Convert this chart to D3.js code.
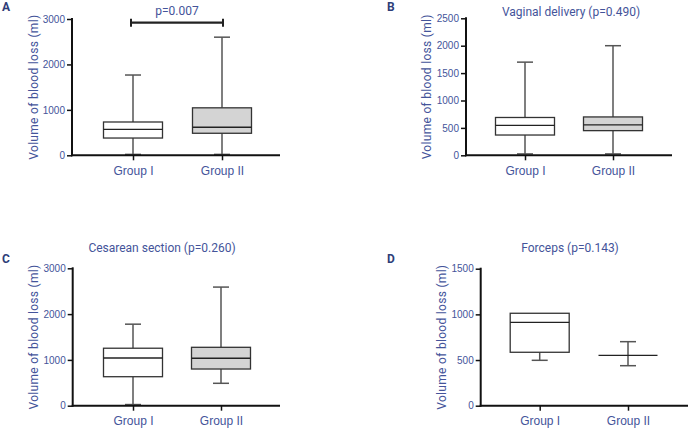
<!DOCTYPE html>
<html><head><meta charset="utf-8">
<script src="https://cdn.jsdelivr.net/npm/d3@7"></script>
<style>
body{margin:0;background:#fff;}
svg{display:block;font-family:Roboto, "Open Sans", sans-serif;}
</style></head>
<body><svg id="c" width="688" height="428"></svg>
<script>
// ---- data ----
const categories = ["Group I", "Group II"];
// [min, q1, median, q3, max] per group
const panelA = [[20, 380, 572, 733, 1767], [20, 485, 617, 1045, 2600]];
const panelB = [[25, 370, 545, 690, 1700], [25, 450, 555, 700, 2000]];
const panelC = [[25, 633, 1041, 1255, 1780], [489, 801, 1036, 1275, 2590]];
const panelD = [[497, 585, 913, 1012, 1012], [438, 552, 552, 552, 701]];
const ticksA = [0, 1000, 2000, 3000];
const ticksB = [0, 500, 1000, 1500, 2000, 2500];
const ticksC = [0, 1000, 2000, 3000];
const ticksD = [0, 500, 1000, 1500];
const titles = ["", "Vaginal delivery (p=0.490)", "Cesarean section (p=0.260)", "Forceps (p=0.143)"];
const letters = ["A", "B", "C", "D"];
const pA = "p=0.007";
const yTitle = "Volume of blood loss (ml)";

const svg = d3.select("#c");
const BLUE = "#44549a";
const fills = ["#ffffff", "#d4d4d4"];

function panel(o) {
  const g = svg.append("g");
  const y = d3.scaleLinear().domain([0, o.max]).range([o.y0, o.y1]);
  const x = d3.scalePoint().domain(categories).range([o.c1, o.c2]);
  const bw = 59, cap = 16;
  o.data.forEach((d, i) => {
    const cx = x(categories[i]);
    const [mn, q1, md, q3, mx] = d;
    g.append("line").attr("x1", cx).attr("x2", cx).attr("y1", y(mx)).attr("y2", y(q3)).attr("stroke", "#555").attr("stroke-width", 1.5);
    g.append("line").attr("x1", cx).attr("x2", cx).attr("y1", y(q1)).attr("y2", y(mn)).attr("stroke", "#555").attr("stroke-width", 1.5);
    if (mx > q3) g.append("line").attr("x1", cx - cap / 2).attr("x2", cx + cap / 2).attr("y1", y(mx)).attr("y2", y(mx)).attr("stroke", "#555").attr("stroke-width", 1.5);
    if (mn < q1) g.append("line").attr("x1", cx - cap / 2).attr("x2", cx + cap / 2).attr("y1", y(mn)).attr("y2", y(mn)).attr("stroke", "#555").attr("stroke-width", 1.5);
    if (q3 > q1) g.append("rect").attr("x", cx - bw / 2).attr("y", y(q3)).attr("width", bw).attr("height", y(q1) - y(q3))
      .attr("fill", fills[i]).attr("stroke", "#333").attr("stroke-width", 1.3);
    g.append("line").attr("x1", cx - bw / 2).attr("x2", cx + bw / 2).attr("y1", y(md)).attr("y2", y(md)).attr("stroke", "#222").attr("stroke-width", 1.3);
  });
  const ya = g.append("g").attr("transform", `translate(${o.ax},0)`).call(d3.axisLeft(y).tickValues(o.ticks).tickSize(5).tickPadding(2).tickFormat(d3.format("d")));
  ya.select(".domain").attr("stroke", "#111").attr("stroke-width", 2).attr("d", `M0,${o.y1 - 1}V${o.y0 + 1}`);
  ya.selectAll(".tick line").attr("stroke", "#111").attr("stroke-width", 1.5);
  ya.selectAll(".tick text").attr("fill", BLUE).attr("font-size", 10);
  g.append("line").attr("x1", o.ax - 1).attr("x2", o.axEnd).attr("y1", o.y0).attr("y2", o.y0).attr("stroke", "#111").attr("stroke-width", 2);
  const xa = g.append("g").attr("transform", `translate(0,${o.y0})`).call(d3.axisBottom(x).tickSize(5).tickPadding(6));
  xa.select(".domain").remove();
  xa.selectAll(".tick line").attr("stroke", "#111").attr("stroke-width", 1.5);
  xa.selectAll(".tick text").attr("fill", BLUE).attr("font-size", 12);
  g.append("text").attr("transform", `translate(${o.tx},${(o.y0 + o.y1) / 2}) rotate(-90)`).attr("text-anchor", "middle")
    .attr("dy", "0.35em").attr("fill", BLUE).attr("font-size", 12).attr("letter-spacing", 0.3).text(yTitle);
  if (o.title) g.append("text").attr("x", o.ttx).attr("y", o.tty).attr("text-anchor", "middle").attr("fill", BLUE).attr("font-size", 12).text(o.title);
  g.append("text").attr("x", o.lx).attr("y", o.ly).attr("fill", "#2e3d78").attr("font-weight", "bold").attr("font-size", 12).text(o.letter);
  return {g, x, y};
}

const a = panel({data: panelA, max: 3000, ticks: ticksA, y0: 155.3, y1: 19, ax: 72, axEnd: 280, c1: 133, c2: 222, tx: 34, title: titles[0], letter: letters[0], lx: 2, ly: 11});
{
  const by = 22.7;
  const x1 = a.x(categories[0]) - 2, x2 = a.x(categories[1]) + 1;
  a.g.append("line").attr("x1", x1).attr("x2", x2).attr("y1", by).attr("y2", by).attr("stroke", "#222").attr("stroke-width", 2.2);
  [x1, x2].forEach(xx => a.g.append("line").attr("x1", xx).attr("x2", xx).attr("y1", by - 4).attr("y2", by + 4).attr("stroke", "#222").attr("stroke-width", 2));
  a.g.append("text").attr("x", (x1 + x2) / 2).attr("y", 15).attr("text-anchor", "middle").attr("fill", BLUE).attr("font-size", 12).text(pA);
}
panel({data: panelB, max: 2500, ticks: ticksB, y0: 155.3, y1: 18.3, ax: 466, axEnd: 672, c1: 525, c2: 613, tx: 427, title: titles[1], ttx: 571, tty: 15.5, letter: letters[1], lx: 387, ly: 11});
panel({data: panelC, max: 3000, ticks: ticksC, y0: 405.7, y1: 268.3, ax: 72.7, axEnd: 280, c1: 133, c2: 221, tx: 34, title: titles[2], ttx: 162, tty: 251.5, letter: letters[2], lx: 2, ly: 263});
panel({data: panelD, max: 1500, ticks: ticksD, y0: 405.7, y1: 268.7, ax: 480.7, axEnd: 688, c1: 539.7, c2: 628, tx: 442, title: titles[3], ttx: 570, tty: 251.5, letter: letters[3], lx: 387, ly: 263});
</script></body></html>
